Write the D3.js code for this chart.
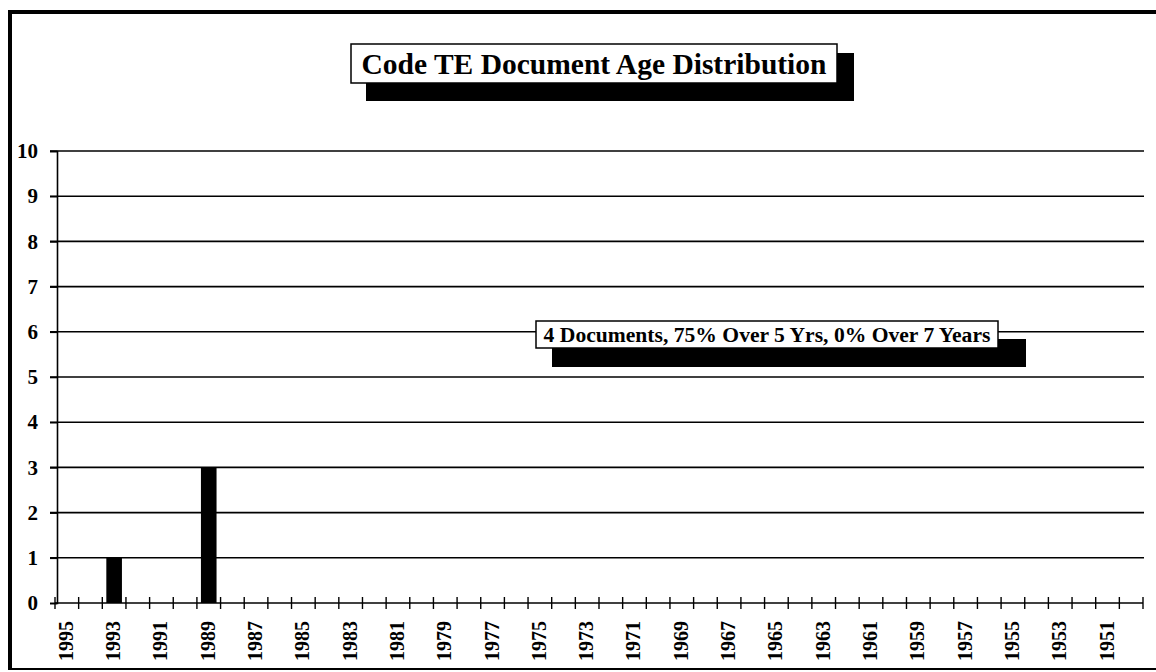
<!DOCTYPE html>
<html>
<head>
<meta charset="utf-8">
<script src="https://cdn.jsdelivr.net/npm/d3@7"></script>
<style>
  body { margin: 0; background: #fff; }
  text { font-family: "Liberation Serif", "Times New Roman", serif; font-weight: bold; fill: #000; }
</style>
</head>
<body>
<svg width="1156" height="672"></svg>
<script>
// years shown left to right (newest first)
var years = d3.range(1995, 1949, -1);
var docYears = [1993, 1989];
var docCounts = [1, 3];
var yTicks = d3.range(0, 11);
var title = "Code TE Document Age Distribution";
var note = "4 Documents, 75% Over 5 Yrs, 0% Over 7 Years";

var counts = years.map(function (yr) {
  var i = docYears.indexOf(yr);
  return { year: yr, value: i < 0 ? 0 : docCounts[i] };
});

var svg = d3.select("svg");

// outer frame
svg.append("rect").attr("x", 8).attr("y", 10).attr("width", 4).attr("height", 660).attr("fill", "#000");
svg.append("rect").attr("x", 8).attr("y", 10).attr("width", 1148).attr("height", 4).attr("fill", "#000");
svg.append("rect").attr("x", 8).attr("y", 668).attr("width", 1148).attr("height", 2).attr("fill", "#000");

var plotLeft = 55, plotRight = 1143, plotTop = 151, plotBottom = 603;

var x = d3.scaleBand()
  .domain(years)
  .range([plotLeft, plotRight])
  .paddingInner(0.34)
  .paddingOuter(0.17);

var y = d3.scaleLinear()
  .domain([0, 10])
  .range([plotBottom, plotTop]);

// gridlines
svg.append("g")
  .selectAll("line")
  .data(yTicks.filter(function (d) { return d > 0; }))
  .enter().append("line")
  .attr("x1", 50).attr("x2", 1144)
  .attr("y1", function (d) { return y(d); })
  .attr("y2", function (d) { return y(d); })
  .attr("stroke", "#000")
  .attr("stroke-width", 1.6);

// y axis
var yAxis = svg.append("g")
  .attr("transform", "translate(57,0)")
  .call(d3.axisLeft(y).tickValues(yTicks).tickSize(7).tickPadding(12));
yAxis.select(".domain").attr("stroke", "#000").attr("stroke-width", 1.6);
yAxis.selectAll(".tick line").attr("stroke-width", 1.6);
yAxis.selectAll("text")
  .style("font-family", "Liberation Serif")
  .style("font-weight", "bold")
  .style("font-size", "21px");

// bars
svg.append("g")
  .selectAll("rect")
  .data(counts)
  .enter().append("rect")
  .attr("x", function (d) { return x(d.year); })
  .attr("width", x.bandwidth())
  .attr("y", function (d) { return y(d.value); })
  .attr("height", function (d) { return y(0) - y(d.value); })
  .attr("fill", "#000");

// x axis line and ticks at band edges
svg.append("line")
  .attr("x1", plotLeft).attr("x2", plotRight)
  .attr("y1", plotBottom).attr("y2", plotBottom)
  .attr("stroke", "#000").attr("stroke-width", 1.6);

var gap = (x.step() - x.bandwidth()) / 2;
var edges = years.map(function (yr) { return x(yr) - gap; });
edges.push(plotRight);
svg.append("g")
  .selectAll("line")
  .data(edges)
  .enter().append("line")
  .attr("x1", function (d) { return d; })
  .attr("x2", function (d) { return d; })
  .attr("y1", plotBottom - 6).attr("y2", plotBottom + 6)
  .attr("stroke", "#000").attr("stroke-width", 1.4);

// year labels, every other year
svg.append("g")
  .selectAll("text")
  .data(years.filter(function (yr) { return yr % 2 === 1; }))
  .enter().append("text")
  .attr("transform", function (d) {
    return "translate(" + (x(d) + x.bandwidth() / 2 + 6) + ",621) rotate(-90)";
  })
  .attr("text-anchor", "end")
  .style("font-size", "20px")
  .text(function (d) { return d; });

// boxed label with drop shadow
function shadowBox(bx, by, bw, bh, sx, sy, sw, sh, txt, size) {
  svg.append("rect").attr("x", sx).attr("y", sy)
    .attr("width", sw).attr("height", sh).attr("fill", "#000");
  svg.append("rect").attr("x", bx).attr("y", by)
    .attr("width", bw).attr("height", bh)
    .attr("fill", "#fff").attr("stroke", "#000").attr("stroke-width", 1.5);
  svg.append("text")
    .attr("x", bx + bw / 2).attr("y", by + bh / 2)
    .attr("dy", "0.35em")
    .attr("text-anchor", "middle")
    .style("font-size", size + "px")
    .text(txt);
}

shadowBox(351, 44, 486, 39, 366, 53, 488, 48, title, 29.5);
shadowBox(536, 321, 462, 27, 552, 339, 474, 28, note, 21.6);
</script>
</body>
</html>
